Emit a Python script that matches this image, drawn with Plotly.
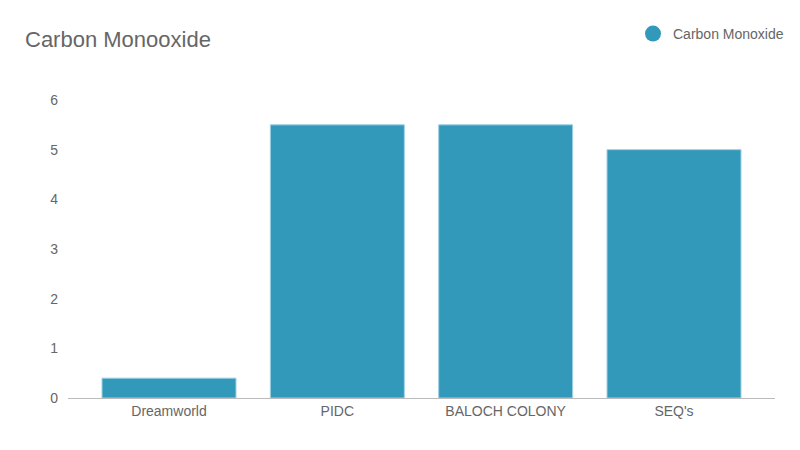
import plotly.graph_objects as go

categories = ["Dreamworld", "PIDC", "BALOCH COLONY", "SEQ's"]
values = [0.4, 5.5, 5.5, 5.0]
series_name = "Carbon Monoxide"
title_text = "Carbon Monooxide"
y_ticks = [0, 1, 2, 3, 4, 5, 6]

bar_color = "#3399bb"
font_family = "Liberation Sans, Arial, sans-serif"

fig = go.Figure()
fig.add_trace(go.Bar(
    x=categories, y=values, name=series_name, showlegend=False,
    marker=dict(color=bar_color, line=dict(color="#9fd0e2", width=1)),
))
fig.add_trace(go.Scatter(
    x=[None], y=[None], mode="markers", name=series_name,
    marker=dict(color=bar_color, size=16, symbol="circle"),
))

fig.update_layout(
    width=800, height=450,
    paper_bgcolor="white", plot_bgcolor="white",
    margin=dict(l=68, r=25, t=100, b=52, autoexpand=False),
    font=dict(family=font_family, color="#666666", size=14),
    title=dict(text=title_text, x=25/800, xref="container", xanchor="left",
               y=1-39/450, yref="container", yanchor="middle",
               font=dict(size=22, color="#666666", family=font_family)),
    legend=dict(xref="container", yref="container", x=789/800, xanchor="right",
                y=1-34/450, yanchor="middle", font=dict(size=14, color="#666666"),
                itemwidth=30, bgcolor="rgba(0,0,0,0)"),
    bargap=0.204,
    xaxis=dict(range=[-0.6, 3.6], showgrid=False, showline=True, linecolor="#bbbbbb",
               linewidth=1, ticks="", tickfont=dict(size=14, color="#666666"),
               fixedrange=True),
    yaxis=dict(range=[0, 6], tickvals=y_ticks, showgrid=False, zeroline=False,
               showline=False, ticks="", ticklabelstandoff=9,
               tickfont=dict(size=14, color="#666666"), fixedrange=True),
)

fig.write_html("out.html", config={"displayModeBar": False},
               post_script="document.body.style.margin='0';document.body.style.overflow='hidden';")
